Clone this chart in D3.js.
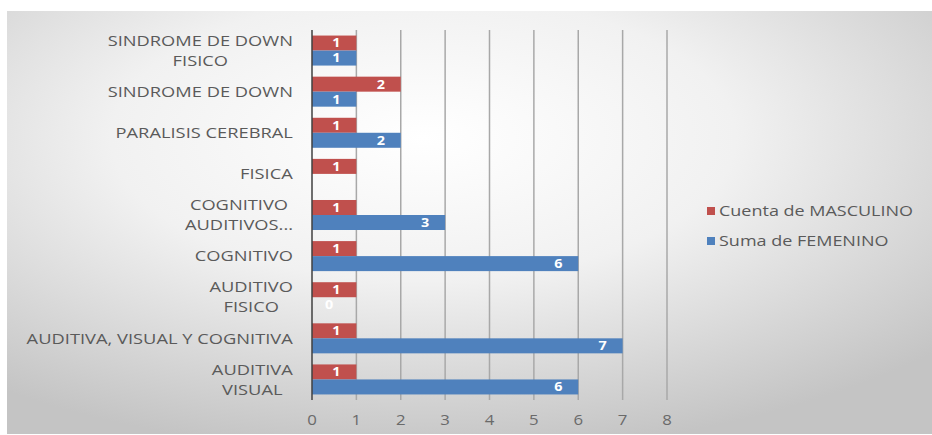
<!DOCTYPE html>
<html>
<head>
<meta charset="utf-8">
<script src="https://cdn.jsdelivr.net/npm/d3@7"></script>
<style>
  body { margin: 0; background: #fff; }
  svg text { font-family: "Open Sans", "Liberation Sans", sans-serif; }
</style>
</head>
<body>
<div id="chart"></div>
<script>
// categories from top to bottom
const categories = [
  ["SINDROME DE DOWN", "FISICO"],
  ["SINDROME DE DOWN"],
  ["PARALISIS CEREBRAL"],
  ["FISICA"],
  ["COGNITIVO", "AUDITIVOS..."],
  ["COGNITIVO"],
  ["AUDITIVO", "FISICO"],
  ["AUDITIVA, VISUAL Y COGNITIVA"],
  ["AUDITIVA", "VISUAL"]
];
const masculino = [1, 2, 1, 1, 1, 1, 1, 1, 1];
const femenino = [1, 1, 2, null, 3, 6, 0, 7, 6];
const seriesNames = ["Cuenta de MASCULINO", "Suma de FEMENINO"];
const seriesColors = ["#C0504D", "#4F81BD"];
const xTicks = [0, 1, 2, 3, 4, 5, 6, 7, 8];

const W = 932, H = 435;
const plot = { left: 312, right: 667, top: 30, bottom: 400 };
const stretch = 1.22; // text in the picture is widened

const svg = d3.select("#chart").append("svg")
    .attr("width", W)
    .attr("height", H);

const defs = svg.append("defs");
const grad = defs.append("radialGradient")
    .attr("id", "bg")
    .attr("cx", "45%").attr("cy", "30%").attr("r", "75%");
grad.append("stop").attr("offset", "0%").attr("stop-color", "#ffffff");
grad.append("stop").attr("offset", "45%").attr("stop-color", "#f1f1f1");
grad.append("stop").attr("offset", "100%").attr("stop-color", "#c4c4c4");

// chart frame
svg.append("rect")
    .attr("x", 7).attr("y", 11)
    .attr("width", W - 7).attr("height", 423)
    .attr("fill", "url(#bg)");

const x = d3.scaleLinear()
    .domain([0, 8])
    .range([plot.left, plot.right]);

const y0 = d3.scaleBand()
    .domain(d3.range(categories.length))
    .range([plot.top, plot.bottom])
    .paddingInner(0.27)
    .paddingOuter(0.135);

const y1 = d3.scaleBand()
    .domain([0, 1])
    .range([0, y0.bandwidth()]);

// gridlines
svg.append("g")
    .selectAll("line")
    .data(xTicks.slice(1))
    .enter()
    .append("line")
    .attr("x1", d => x(d)).attr("x2", d => x(d))
    .attr("y1", plot.top).attr("y2", plot.bottom)
    .attr("stroke", "#a8a8a8")
    .attr("stroke-width", 1.5);

// x tick labels
svg.append("g")
    .selectAll("text")
    .data(xTicks)
    .enter()
    .append("text")
    .attr("transform", d => `translate(${x(d)},420) scale(1.2,1)`)
    .attr("dy", "0.35em")
    .attr("text-anchor", "middle")
    .style("font-size", "14px")
    .style("fill", "#6a6a6a")
    .text(d => d);

// bars
const series = [masculino, femenino];
series.forEach((vals, s) => {
    const g = svg.append("g");
    const items = vals.map((v, i) => ({ v, i })).filter(d => d.v !== null);
    g.selectAll("rect")
        .data(items)
        .enter()
        .append("rect")
        .attr("x", x(0))
        .attr("y", d => y0(d.i) + y1(s))
        .attr("width", d => x(d.v) - x(0))
        .attr("height", y1.bandwidth())
        .attr("fill", seriesColors[s]);
    g.selectAll("text")
        .data(items)
        .enter()
        .append("text")
        .attr("transform", d => `translate(${Math.max(x(d.v) - 20, x(0) + 17)},${y0(d.i) + y1(s) + y1.bandwidth() / 2}) scale(1.15,1)`)
        .attr("dy", "0.35em")
        .attr("text-anchor", "middle")
        .style("font-size", "12.5px")
        .style("font-weight", "bold")
        .style("fill", "#ffffff")
        .text(d => d.v);
});

// y axis line
svg.append("line")
    .attr("x1", x(0)).attr("x2", x(0))
    .attr("y1", plot.top).attr("y2", plot.bottom)
    .attr("stroke", "#404040")
    .attr("stroke-width", 1.5);

// category labels
svg.append("g")
    .selectAll("g")
    .data(categories)
    .enter()
    .append("g")
    .attr("transform", (d, i) => `translate(293,${y0(i) + y0.bandwidth() / 2}) scale(${stretch},1)`)
    .each(function (lines) {
        const t = d3.select(this).append("text")
            .attr("text-anchor", "middle")
            .style("font-size", "15px")
            .style("fill", "#5a5a5a");
        lines.forEach((ln, k) => {
            t.append("tspan")
                .attr("x", 0)
                .attr("y", (k - (lines.length - 1) / 2) * 20)
                .attr("dy", "0.35em")
                .text(ln);
        });
        const bb = t.node().getBBox();
        t.selectAll("tspan").attr("x", -bb.width / 2);
    });

// legend
const legend = svg.append("g")
    .attr("transform", "translate(707, 211)");
legend.selectAll("rect")
    .data(seriesNames)
    .enter()
    .append("rect")
    .attr("x", 0)
    .attr("y", (d, i) => i * 30 - 4)
    .attr("width", 8)
    .attr("height", 8)
    .attr("fill", (d, i) => seriesColors[i]);
legend.selectAll("text")
    .data(seriesNames)
    .enter()
    .append("text")
    .attr("transform", (d, i) => `translate(12,${i * 30}) scale(1.2,1)`)
    .attr("dy", "0.35em")
    .style("font-size", "15px")
    .style("fill", "#5a5a5a")
    .text(d => d);
</script>
</body>
</html>
